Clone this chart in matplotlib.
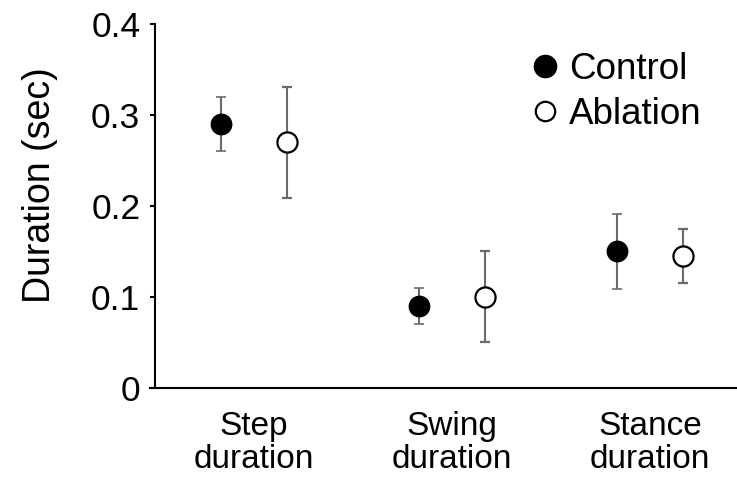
import matplotlib
matplotlib.use("Agg")
import matplotlib.pyplot as plt
from matplotlib.lines import Line2D
import numpy as np

plt.rcParams['font.family'] = ['Liberation Sans', 'DejaVu Sans']

categories = ["Step\nduration", "Swing\nduration", "Stance\nduration"]
control_mean = [0.29, 0.09, 0.15]
control_err = [0.03, 0.02, 0.041]
ablation_mean = [0.27, 0.10, 0.145]
ablation_err = [0.061, 0.05, 0.03]
yticks = [0, 0.1, 0.2, 0.3, 0.4]
ytick_labels = ["0", "0.1", "0.2", "0.3", "0.4"]

W, H = 737, 483
fig = plt.figure(figsize=(W / 100, H / 100), dpi=100)
ax = fig.add_axes([150 / W, (H - 387.7) / H, 587 / W, 363.4 / H])

x = np.arange(len(categories))
off = 0.167
err_color = "#6b6b6b"

ax.errorbar(x - off, control_mean, yerr=control_err, fmt='o', ms=14.5,
            mfc='black', mec='black', mew=1.2, ecolor=err_color,
            elinewidth=1.5, capsize=3.4, capthick=1.5, zorder=3)
ax.errorbar(x + off, ablation_mean, yerr=ablation_err, fmt='o', ms=14.5,
            mfc='white', mec='black', mew=1.6, ecolor=err_color,
            elinewidth=1.5, capsize=3.4, capthick=1.5, zorder=3)

ax.set_xlim(-0.525, 2.44)
ax.set_ylim(0, 0.4)
ax.spines['left'].set_position(('data', -0.5))
for s in ['top', 'right']:
    ax.spines[s].set_visible(False)
for s in ['left', 'bottom']:
    ax.spines[s].set_linewidth(1.5)

ax.set_yticks(yticks)
ax.set_yticklabels(ytick_labels, fontsize=25.5)
ax.tick_params(axis='y', length=3.5, width=1.5, pad=7)
ax.set_xticks(x)
ax.set_xticklabels(categories, fontsize=24, linespacing=1.08)
ax.tick_params(axis='x', length=0, pad=17)

ax.set_ylabel("Duration (sec)", fontsize=27)
ax.yaxis.set_label_coords(-0.157, 0.558)

handles = [
    Line2D([], [], ls='none', marker='o', ms=16, mfc='black', mec='black', mew=1),
    Line2D([], [], ls='none', marker='o', ms=14, mfc='white', mec='black', mew=1.6),
]
ax.legend(handles, ["Control", "Ablation"], loc='upper left',
          bbox_to_anchor=(534 / W, (H - 52) / H), bbox_transform=fig.transFigure,
          frameon=False, fontsize=26.5, handlelength=0.6, handletextpad=0.35,
          labelspacing=0.27, borderpad=0, borderaxespad=0)

fig.savefig("out.png", dpi=100)
